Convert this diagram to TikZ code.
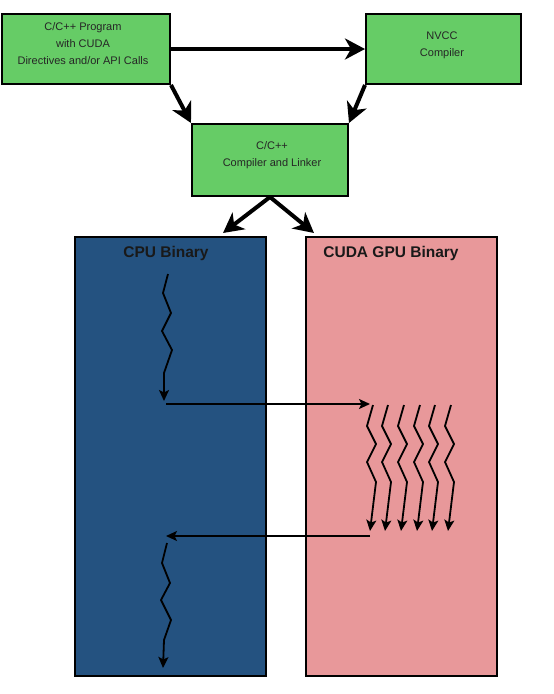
\documentclass[tikz,border=0pt]{standalone}
\usepackage{fontspec}
\setmainfont{Liberation Sans}
\usetikzlibrary{arrows.meta}
\definecolor{boxgreen}{RGB}{102,204,102}
\definecolor{cpublue}{RGB}{36,82,128}
\definecolor{gpupink}{RGB}{232,152,154}
\begin{document}
\begin{tikzpicture}[x=1pt,y=-1pt,
  greenbox/.style={draw=black,line width=2pt,fill=boxgreen,inner sep=0pt,anchor=north west},
  bigbox/.style={draw=black,line width=1.6pt,inner sep=0pt,anchor=north west},
  lbl/.style={font=\fontsize{11}{17}\selectfont,align=center,text=black!85},
  title/.style={font=\fontsize{15.5}{17}\selectfont\bfseries,text=black!90},
  thick arrow/.style={line width=4pt,-{Stealth[length=20pt,width=21pt,inset=6pt]}},
  thin arrow/.style={line width=1.7pt,-{Stealth[length=11pt,width=10pt,inset=2.5pt]}},
  wave/.style={line width=1.8pt,line join=round,-{Stealth[length=11pt,width=10pt,inset=2.5pt]}}]
\useasboundingbox (0,0) rectangle (554,694);
% boxes
\node[greenbox,minimum width=168pt,minimum height=70pt] (prog) at (1,13) {};
\node[greenbox,minimum width=155pt,minimum height=70pt] (nvcc) at (365,13) {};
\node[greenbox,minimum width=156pt,minimum height=72pt] (link) at (191,123) {};
\node[bigbox,fill=cpublue,minimum width=191pt,minimum height=439pt] (cpu) at (74,236) {};
\node[bigbox,fill=gpupink,minimum width=191pt,minimum height=439pt] (gpu) at (305,236) {};
% texts
\node[lbl] (progtxt) at (83,44) {C/C++ Program\\with CUDA\\Directives and/or API Calls};
\node[lbl] (nvcctxt) at (442,45) {NVCC\\Compiler};
\node[lbl] (linktxt) at (272,155.5) {C/C++\\Compiler and Linker};
\node[title] (cputxt) at (166,253) {CPU Binary};
\node[title] (gputxt) at (391,253) {CUDA GPU Binary};
% thick arrows
\draw[thick arrow] (prog.east) -- (nvcc.west);
\draw[thick arrow] (prog.south east) -- (link.north west);
\draw[thick arrow] (nvcc.south west) -- (link.north east);
\coordinate (cpuin) at (223,233);
\coordinate (gpuin) at (314,233);
\draw[thick arrow] (link.south) -- (cpuin);
\draw[thick arrow] (link.south) -- (gpuin);
% cpu threads
\coordinate (c1end) at (164,401);
\draw[wave] (168,274) -- (163,293) -- (171,313) -- (162,331) -- (172,350) -- (164,373) -- (c1end);
\coordinate (gpustart) at (370,404);
\coordinate (c1out) at (166,404);
\draw[thin arrow] (c1out) -- (gpustart);
\foreach \i/\x in {1/373,2/388,3/404,4/420,5/435,6/451}{
  \draw[wave] (\x,405) -- ++(-6,21) -- ++(9,18) -- ++(-9,18) -- ++(9,20) -- ++(-6,49);
}
\coordinate (gpuend) at (370,536);
\coordinate (c2in) at (166,536);
\draw[thin arrow] (gpuend) -- (c2in);
\coordinate (c2end) at (163,668);
\draw[wave] (167,543) -- (162,563) -- (170,583) -- (161,600) -- (171,620) -- (164,640) -- (c2end);
\end{tikzpicture}
\end{document}
